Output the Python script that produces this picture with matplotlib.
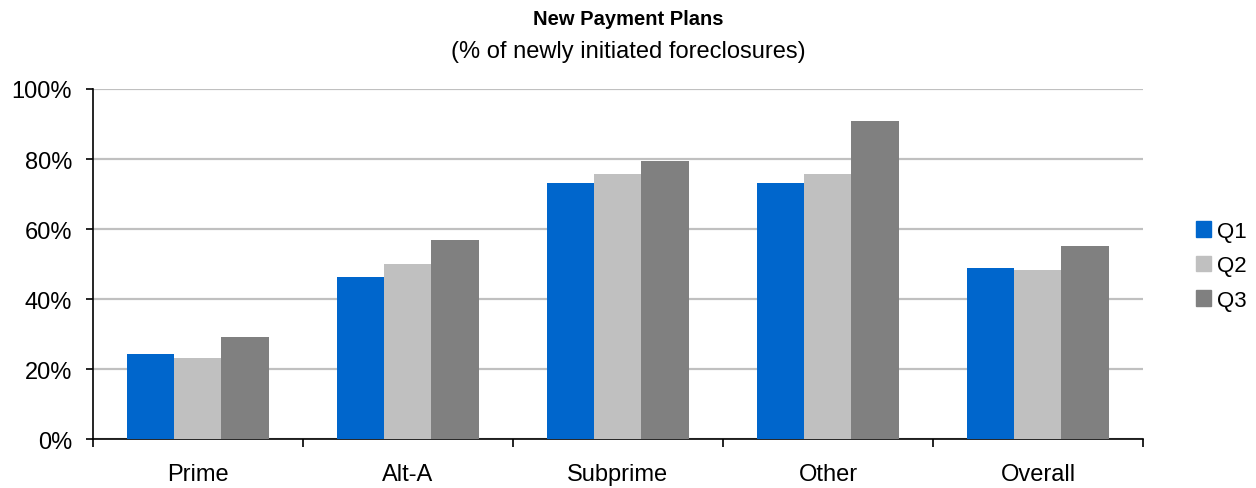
import matplotlib.pyplot as plt
from matplotlib.patches import Patch
import numpy as np

plt.rcParams['font.family'] = ['Liberation Sans', 'DejaVu Sans']

# 数据
categories = ['Prime', 'Alt-A', 'Subprime', 'Other', 'Overall']
series = ['Q1', 'Q2', 'Q3']
q1 = [24.3, 46.3, 73.1, 73.1, 48.9]
q2 = [23.1, 50.0, 75.7, 75.7, 48.3]
q3 = [29.1, 56.9, 79.4, 90.9, 55.1]
colors = ['#0066CC', '#C0C0C0', '#808080']

fig = plt.figure(figsize=(12.56, 4.89), dpi=100)
ax = fig.add_axes([0.074, 0.100, 0.836, 0.716])

x = np.arange(len(categories))
w = 0.224
for i, (vals, c) in enumerate(zip([q1, q2, q3], colors)):
    ax.bar(x + (i - 1) * w, vals, width=w, color=c, zorder=3)

ax.set_xlim(-0.5, len(categories) - 0.5)
ax.set_ylim(0, 100)
ax.set_yticks(np.arange(0, 101, 20))
ax.set_yticklabels([f'{v}%' for v in range(0, 101, 20)], fontsize=17)
ax.yaxis.grid(True, color='#C0C0C0', lw=1.6, zorder=0)

# 类别标签居中，刻度线在类别边界
ax.set_xticks(x)
ax.set_xticklabels(categories, fontsize=17)
ax.tick_params(axis='x', length=0, pad=17.5)
ax.set_xticks(np.arange(-0.5, len(categories)), minor=True)
ax.tick_params(axis='x', which='minor', length=6, width=1.2, direction='out')
ax.tick_params(axis='y', length=5, width=1.2, direction='out', pad=10)

for s in ['top', 'right']:
    ax.spines[s].set_visible(False)
for s in ['left', 'bottom']:
    ax.spines[s].set_linewidth(1.2)

fig.text(0.5, 0.96, 'New Payment Plans', ha='center', va='center',
         fontsize=14.5, fontweight='bold')
fig.text(0.5, 0.893, '(% of newly initiated foreclosures)', ha='center',
         va='center', fontsize=17)

handles = [Patch(color=c, label=s) for c, s in zip(colors, series)]
fig.legend(handles=handles, loc='center left', bbox_to_anchor=(0.952, 0.454),
           frameon=False, fontsize=16, handlelength=0.7, handleheight=0.7,
           handletextpad=0.25, labelspacing=0.61, borderaxespad=0,
           borderpad=0)

fig.savefig('out.png', dpi=100)
